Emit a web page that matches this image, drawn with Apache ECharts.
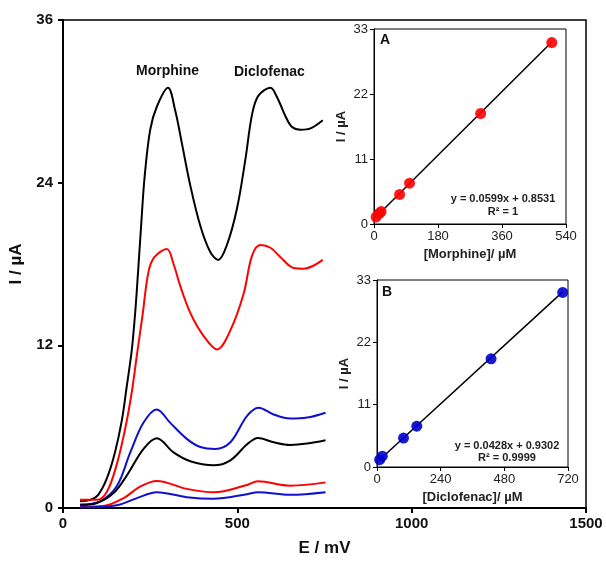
<!DOCTYPE html>
<html lang="en">
<head>
    <meta charset="UTF-8">
    <title>Morphine / Diclofenac DPV</title>
    <script src="https://cdn.jsdelivr.net/npm/echarts@6/dist/echarts.min.js"></script>
    <style>
        body, html {
            margin: 0;
            background: #fff;
        }

        #main {
            width: 606px;
            height: 562px;
        }
    </style>
</head>
<body>
<div id="main"></div>
<script>
    // main voltammograms, [E / mV, I / µA]
    const blackTop = [[49, 0.49], [78, 0.6], [101, 0.97], [126, 2.2], [149, 4.1], [169, 6.5], [183, 9.0], [197, 11.6],
        [207, 14.4], [215, 17.3], [224, 20.8], [234, 24.4], [250, 27.9], [269, 29.6], [301, 31.0], [322, 29.3],
        [341, 26.9], [365, 23.8], [394, 20.8], [422, 18.9], [445, 18.3], [470, 19.4], [499, 22.1], [523, 25.7],
        [542, 29.0], [560, 30.4], [595, 31.0], [614, 30.3], [638, 28.9], [657, 28.1], [681, 27.9], [710, 28.0],
        [745, 28.6]];
    const redTop = [[49, 0.6], [97, 0.6], [126, 1.2], [154, 3.2], [178, 5.8], [197, 8.5], [212, 11.3], [228, 14.2],
        [245, 17.4], [262, 18.5], [298, 19.1], [317, 18.0], [336, 16.4], [365, 14.4], [403, 12.7], [442, 11.7],
        [480, 13.1], [518, 15.8], [542, 18.6], [566, 19.4], [595, 19.2], [624, 18.5], [662, 17.7], [690, 17.65],
        [745, 18.3]];
    const blueMid = [[49, 0.25], [106, 0.49], [154, 1.6], [193, 4.1], [231, 6.3], [269, 7.27], [307, 6.3], [355, 5.1],
        [394, 4.5], [437, 4.36], [480, 4.85], [528, 6.8], [561, 7.4], [604, 6.9], [652, 6.6], [700, 6.67],
        [753, 7.03]];
    const blackMid = [[49, 0.2], [97, 0.36], [145, 1.1], [183, 2.4], [231, 4.36], [269, 5.14], [317, 4.1], [365, 3.45],
        [432, 3.15], [480, 3.52], [528, 4.7], [559, 5.17], [604, 4.85], [652, 4.65], [700, 4.75], [753, 5.0]];
    const redLow = [[49, 0.1], [116, 0.15], [174, 0.73], [221, 1.58], [269, 2.0], [355, 1.41], [432, 1.16],
        [528, 1.7], [559, 1.97], [652, 1.65], [753, 1.89]];
    const blueLow = [[49, 0.05], [154, 0.2], [212, 0.73], [269, 1.16], [355, 0.8], [432, 0.68], [528, 1.02],
        [559, 1.16], [652, 0.97], [753, 1.16]];

    // calibration insets, [conc / µM, I / µA]
    const morphinePts = [[6, 1.2], [15, 1.8], [20, 2.1], [72, 5.0], [100, 6.9], [300, 18.7], [500, 30.7]];
    const morphineFit = [[4, 1.1], [500, 30.8]];
    const diclofenacPts = [[10, 1.3], [20, 1.9], [100, 5.1], [150, 7.2], [430, 19.1], [700, 30.8]];
    const diclofenacFit = [[8, 1.2], [700, 30.9]];

    const mainX = {min: 0, max: 1500, interval: 500};
    const mainY = {min: 0, max: 36, interval: 12};
    const insetY = {min: 0, max: 33, interval: 11};
    const morphineX = {min: 0, max: 540, interval: 180};
    const diclofenacX = {min: 0, max: 720, interval: 240};

    const FONT = 'Arial, "Liberation Sans", sans-serif';

    const chart = echarts.init(document.getElementById('main'));

    function curve(data, color) {
        return {
            type: 'line', xAxisIndex: 0, yAxisIndex: 0, data: data, smooth: 0.35,
            showSymbol: false, lineStyle: {color: color, width: 2}, z: 2
        };
    }

    function insetX(idx, ax, name) {
        return {
            type: 'value', gridIndex: idx, min: ax.min, max: ax.max, interval: ax.interval,
            name: name, nameLocation: 'middle', nameGap: 24,
            nameTextStyle: {fontFamily: FONT, fontWeight: 'bold', fontSize: 13, color: '#222'},
            axisLine: {lineStyle: {color: '#000', width: 1}},
            axisTick: {inside: false, length: 4, lineStyle: {color: '#000'}},
            axisLabel: {fontFamily: FONT, fontSize: 13, color: '#222', margin: 6},
            splitLine: {show: false}
        };
    }

    function insetYAxis(idx) {
        return {
            type: 'value', gridIndex: idx, min: insetY.min, max: insetY.max, interval: insetY.interval,
            name: 'I / µA', nameLocation: 'middle', nameGap: 26, nameRotate: 90,
            nameTextStyle: {fontFamily: FONT, fontWeight: 'bold', fontSize: 13, color: '#222'},
            axisLine: {lineStyle: {color: '#000', width: 1}},
            axisTick: {inside: false, length: 4, lineStyle: {color: '#000'}},
            axisLabel: {fontFamily: FONT, fontSize: 13, color: '#222', margin: 6},
            splitLine: {show: false}
        };
    }

    const option = {
        backgroundColor: '#fff',
        animation: false,
        grid: [
            {left: 63, top: 20, width: 523, height: 496, show: true, borderColor: '#000', borderWidth: 1.5},
            {left: 374, top: 29, width: 192, height: 195, show: true, borderColor: '#000', borderWidth: 1, backgroundColor: '#fff'},
            {left: 377, top: 280, width: 191, height: 187, show: true, borderColor: '#000', borderWidth: 1, backgroundColor: '#fff'}
        ],
        xAxis: [
            {
                type: 'value', gridIndex: 0, min: mainX.min, max: mainX.max, interval: mainX.interval,
                name: 'E / mV', nameLocation: 'middle', nameGap: 32,
                nameTextStyle: {fontFamily: FONT, fontWeight: 'bold', fontSize: 17, color: '#111'},
                axisLine: {lineStyle: {color: '#000', width: 2}},
                axisTick: {length: 5, lineStyle: {color: '#000', width: 2}},
                axisLabel: {fontFamily: FONT, fontWeight: 'bold', fontSize: 15, color: '#111', margin: 8,
                    formatter: v => String(v)},
                splitLine: {show: false}
            },
            insetX(1, morphineX, '[Morphine]/ µM'),
            insetX(2, diclofenacX, '[Diclofenac]/ µM')
        ],
        yAxis: [
            {
                type: 'value', gridIndex: 0, min: mainY.min, max: mainY.max, interval: mainY.interval,
                name: 'I / µA', nameLocation: 'middle', nameGap: 38, nameRotate: 90,
                nameTextStyle: {fontFamily: FONT, fontWeight: 'bold', fontSize: 17, color: '#111'},
                axisLine: {lineStyle: {color: '#000', width: 2}},
                axisTick: {length: 5, lineStyle: {color: '#000', width: 2}},
                axisLabel: {fontFamily: FONT, fontWeight: 'bold', fontSize: 15, color: '#111', margin: 10},
                splitLine: {show: false}
            },
            insetYAxis(1),
            insetYAxis(2)
        ],
        series: [
            curve(blackTop, '#000'),
            curve(redTop, '#ff0000'),
            curve(blueMid, '#1010cc'),
            curve(blackMid, '#000'),
            curve(redLow, '#ff0000'),
            curve(blueLow, '#1010cc'),
            {
                type: 'line', xAxisIndex: 1, yAxisIndex: 1, data: morphineFit, showSymbol: false,
                lineStyle: {color: '#000', width: 1.5}, z: 3
            },
            {
                type: 'scatter', xAxisIndex: 1, yAxisIndex: 1, data: morphinePts, symbolSize: 11,
                itemStyle: {color: '#ff0000', opacity: 0.9}, z: 4
            },
            {
                type: 'line', xAxisIndex: 2, yAxisIndex: 2, data: diclofenacFit, showSymbol: false,
                lineStyle: {color: '#000', width: 1.5}, z: 3
            },
            {
                type: 'scatter', xAxisIndex: 2, yAxisIndex: 2, data: diclofenacPts, symbolSize: 11,
                itemStyle: {color: '#0000cc', opacity: 0.9}, z: 4
            }
        ],
        graphic: [
            {type: 'text', left: 136, top: 64, style: {text: 'Morphine', font: 'bold 14px ' + FONT, fill: '#111'}},
            {type: 'text', left: 234, top: 65, style: {text: 'Diclofenac', font: 'bold 14px ' + FONT, fill: '#111'}},
            {type: 'text', left: 380, top: 33, style: {text: 'A', font: 'bold 14px ' + FONT, fill: '#111'}, z: 10},
            {type: 'text', left: 382, top: 285, style: {text: 'B', font: 'bold 14px ' + FONT, fill: '#111'}, z: 10},
            {type: 'text', x: 503, y: 199, style: {text: 'y = 0.0599x + 0.8531', font: 'bold 11px ' + FONT, fill: '#222', align: 'center', verticalAlign: 'middle'}, z: 10},
            {type: 'text', x: 503, y: 212, style: {text: 'R² = 1', font: 'bold 11px ' + FONT, fill: '#222', align: 'center', verticalAlign: 'middle'}, z: 10},
            {type: 'text', x: 507, y: 446, style: {text: 'y = 0.0428x + 0.9302', font: 'bold 11px ' + FONT, fill: '#222', align: 'center', verticalAlign: 'middle'}, z: 10},
            {type: 'text', x: 507, y: 458, style: {text: 'R² = 0.9999', font: 'bold 11px ' + FONT, fill: '#222', align: 'center', verticalAlign: 'middle'}, z: 10}
        ]
    };

    chart.setOption(option);
</script>
</body>
</html>
